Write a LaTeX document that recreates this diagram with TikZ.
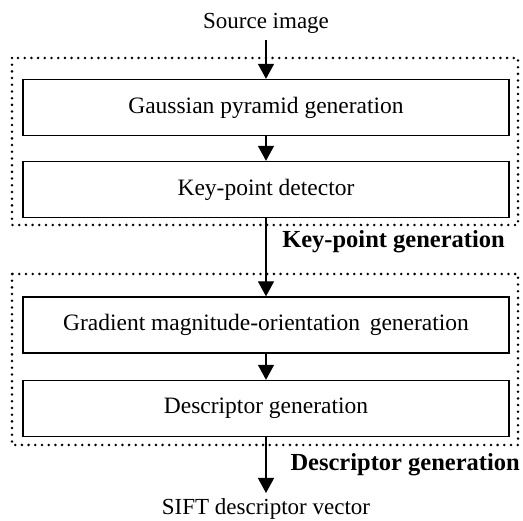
\documentclass[tikz,border=0pt]{standalone}
\usepackage{fontspec}
\setmainfont{Liberation Serif}
\usetikzlibrary{arrows.meta}
\begin{document}
\begin{tikzpicture}[x=1pt,y=-1pt,
  stage/.style={draw,line width=1.3pt,minimum width=486pt,minimum height=56pt,inner sep=0pt,font=\fontsize{23.5}{26}\selectfont},
  group/.style={line width=2.8pt,dash pattern=on 0pt off 6.7pt,line cap=round},
  flow/.style={line width=1.3pt,-{Triangle[length=15pt,width=16pt]}},
  plain/.style={font=\fontsize{23}{26}\selectfont,inner sep=0pt},
  grouplabel/.style={font=\bfseries\fontsize{24.5}{26}\selectfont,inner sep=0pt,anchor=east}]
\useasboundingbox (0,0) rectangle (523,521);
% processing stages
\node[stage] (gauss) at (266,107.5) {Gaussian pyramid generation};
\node[stage] (kpd) at (266,189.5) {Key-point detector};
\node[stage] (grad) at (266,325) {Gradient magnitude-orientation\, generation};
\node[stage] (desc) at (266,408.5) {Descriptor generation};
% input and output
\node[plain] (src) at (266,23) {Source image};
\node[plain] (sift) at (266,509) {SIFT descriptor vector};
\coordinate (srcend) at (266,40);
\coordinate (siftend) at (266,493);
% dotted group frames
\draw[group] (12,58) rectangle (518,225);
\draw[group] (12,274) rectangle (518,445);
\node[grouplabel] (kpg) at (505,242) {Key-point generation};
\node[grouplabel] (dg) at (520,465) {Descriptor generation};
% connectors
\draw[flow] (srcend) -- (gauss.north);
\draw[flow] (gauss.south) -- (kpd.north);
\draw[flow] (kpd.south) -- (grad.north);
\draw[flow] (grad.south) -- (desc.north);
\draw[flow] (desc.south) -- (siftend);
\end{tikzpicture}
\end{document}
